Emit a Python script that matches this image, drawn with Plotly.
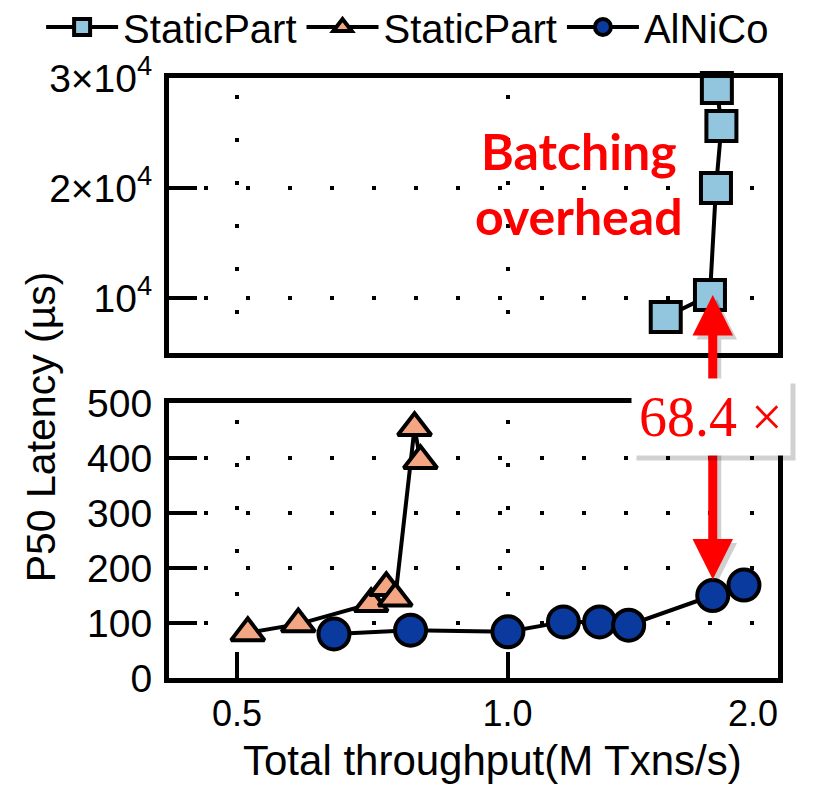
import math
import plotly.graph_objects as go

# ---------------- data ----------------
sq_name = "StaticPart"
sq_x = [1.50, 1.68, 1.706, 1.73, 1.71]          # M Txns/s
sq_y = [8270, 10260, 20000, 25640, 29090]         # us

tri_name = "StaticPart"
tri_x = [0.514, 0.585, 0.705, 0.733, 0.750, 0.788, 0.800]
tri_y = [82, 98, 135, 164, 145, 455, 395]

circ_name = "AlNiCo"
circ_x = [0.641, 0.780, 1.001, 1.154, 1.266, 1.364, 1.692, 1.833]
circ_y = [80, 87, 84, 102, 102, 96, 150, 169]

x_tickvals = [0.5, 1.0, 2.0]
x_ticktext = ["0.5", "1.0", "2.0" + "\u00a0" * 5]
low_tickvals = [0, 100, 200, 300, 400, 500]
top_tickvals = [10000, 20000, 30000]
top_ticktext = ["10<sup>4</sup>", "2×10<sup>4</sup>", "3×10<sup>4</sup>"]

x_title = "Total throughput(M Txns/s)"
y_title = "P50 Latency (µs)"
ratio_text = "68.4 ×"
note_text = "Batching<br>overhead"

# ---------------- styling ----------------
FONT = "Liberation Sans"
SQ_COLOR = "#92c5de"
TRI_COLOR = "#f4a582"
CIRC_COLOR = "#0b3a9e"
RED = "#ff0000"

fig = go.Figure()

fig.add_trace(go.Scatter(
    x=sq_x, y=sq_y, name=sq_name, xaxis="x2", yaxis="y2",
    mode="lines+markers", cliponaxis=False,
    line=dict(color="black", width=4),
    marker=dict(symbol="square", size=30, color=SQ_COLOR,
                line=dict(color="black", width=4)),
))
fig.add_trace(go.Scatter(
    x=tri_x, y=tri_y, name=tri_name, xaxis="x", yaxis="y",
    mode="lines+markers", cliponaxis=False,
    line=dict(color="black", width=4),
    marker=dict(symbol="triangle-up", size=29, color=TRI_COLOR,
                line=dict(color="black", width=4)),
))
fig.add_trace(go.Scatter(
    x=circ_x, y=circ_y, name=circ_name, xaxis="x", yaxis="y",
    mode="lines+markers", cliponaxis=False,
    line=dict(color="black", width=4),
    marker=dict(symbol="circle", size=31, color=CIRC_COLOR,
                line=dict(color="black", width=4)),
))

axis_common = dict(
    showline=True, linewidth=5, linecolor="black", mirror=True,
    showgrid=True, gridcolor="black", gridwidth=4,
    zeroline=False, tickcolor="black", tickwidth=4,
)
YTICKFONT = dict(family=FONT, size=39, color="black")
xrange = [math.log10(0.42), math.log10(2.0)]

# the page body adds an 8px margin, so the figure is sized to fit the window
fig.update_layout(
    width=828, height=779,
    paper_bgcolor="white", plot_bgcolor="white",
    margin=dict(l=161, r=58, t=70, b=109, autoexpand=False),
    font=dict(family=FONT, color="black"),
    showlegend=True,
    legend=dict(
        orientation="h", x=-0.21, xanchor="left", y=1.085, yanchor="middle",
        font=dict(family=FONT, size=40, color="black"),
        itemwidth=72, bgcolor="rgba(0,0,0,0)", borderwidth=0,
        traceorder="normal",
    ),
    xaxis=dict(
        domain=[0, 1], anchor="y", type="log", range=xrange,
        tickmode="array", tickvals=x_tickvals, ticktext=x_ticktext,
        ticks="inside", ticklen=26, ticklabelstandoff=0,
        griddash="0px,17px,4px,22px",
        tickfont=dict(family=FONT, size=36, color="black"),
        **axis_common,
    ),
    xaxis2=dict(
        domain=[0, 1], anchor="y2", type="log", range=xrange, matches="x",
        tickmode="array", tickvals=x_tickvals, showticklabels=False, ticks="",
        griddash="0px,17px,4px,22px",
        **axis_common,
    ),
    yaxis=dict(
        domain=[0, 0.4583], anchor="x", range=[0, 500],
        tickmode="array", tickvals=low_tickvals,
        ticks="inside", ticklen=28, ticklabelstandoff=4,
        griddash="0px,35px,4px,3px", tickfont=YTICKFONT,
        **axis_common,
    ),
    yaxis2=dict(
        domain=[0.5417, 1], anchor="x2", range=[5000, 30000],
        tickmode="array", tickvals=top_tickvals, ticktext=top_ticktext,
        ticks="inside", ticklen=28, ticklabelstandoff=4,
        griddash="0px,35px,4px,3px", tickfont=YTICKFONT,
        **axis_common,
    ),
)

ann = []
# x-axis title (sits slightly right of centre in the reference)
ann.append(dict(
    text=x_title, xref="paper", yref="paper", x=0.532, y=-0.137,
    xanchor="center", yanchor="middle", showarrow=False,
    font=dict(family=FONT, size=42, color="black"),
))
# y-axis title spanning both panels
ann.append(dict(
    text=y_title, textangle=-90, xref="paper", yref="paper",
    x=-0.21, y=0.418, xanchor="center", yanchor="middle", showarrow=False,
    font=dict(family=FONT, size=41, color="black"),
))
# "Batching overhead" note
ann.append(dict(
    text=note_text, xref="paper", yref="paper", x=0.673, y=0.825,
    xanchor="center", yanchor="middle", showarrow=False, align="center",
    font=dict(family="Lato", size=50, color=RED, weight="bold"),
))
# double-headed arrow between the square and the circle (shadow first)
arrow_x = math.log10(circ_x[6])
for color, shift in (("rgba(0,0,0,0.18)", 4), (RED, 0)):
    ann.append(dict(
        x=arrow_x, y=circ_y[6], xref="x", yref="y",
        ax=0, ay=-302, axref="pixel", ayref="pixel",
        text="", showarrow=True, arrowside="end+start",
        arrowhead=2, startarrowhead=2, arrowsize=0.9, startarrowsize=0.9,
        arrowwidth=9, arrowcolor=color, standoff=16, startstandoff=0,
        xshift=shift, yshift=-shift,
    ))
# ratio label with a soft shadow
for fcolor, bg, shift in (("rgba(0,0,0,0)", "rgba(0,0,0,0.18)", 5), (RED, "white", 0)):
    ann.append(dict(
        text=ratio_text, xref="paper", yref="paper", x=0.890, y=0.435,
        xanchor="center", yanchor="middle", showarrow=False,
        font=dict(family="Liberation Serif", size=56, color=fcolor),
        bgcolor=bg, borderpad=7, xshift=shift, yshift=-shift,
    ))
fig.update_layout(annotations=ann)

fig.write_html("out.html")
